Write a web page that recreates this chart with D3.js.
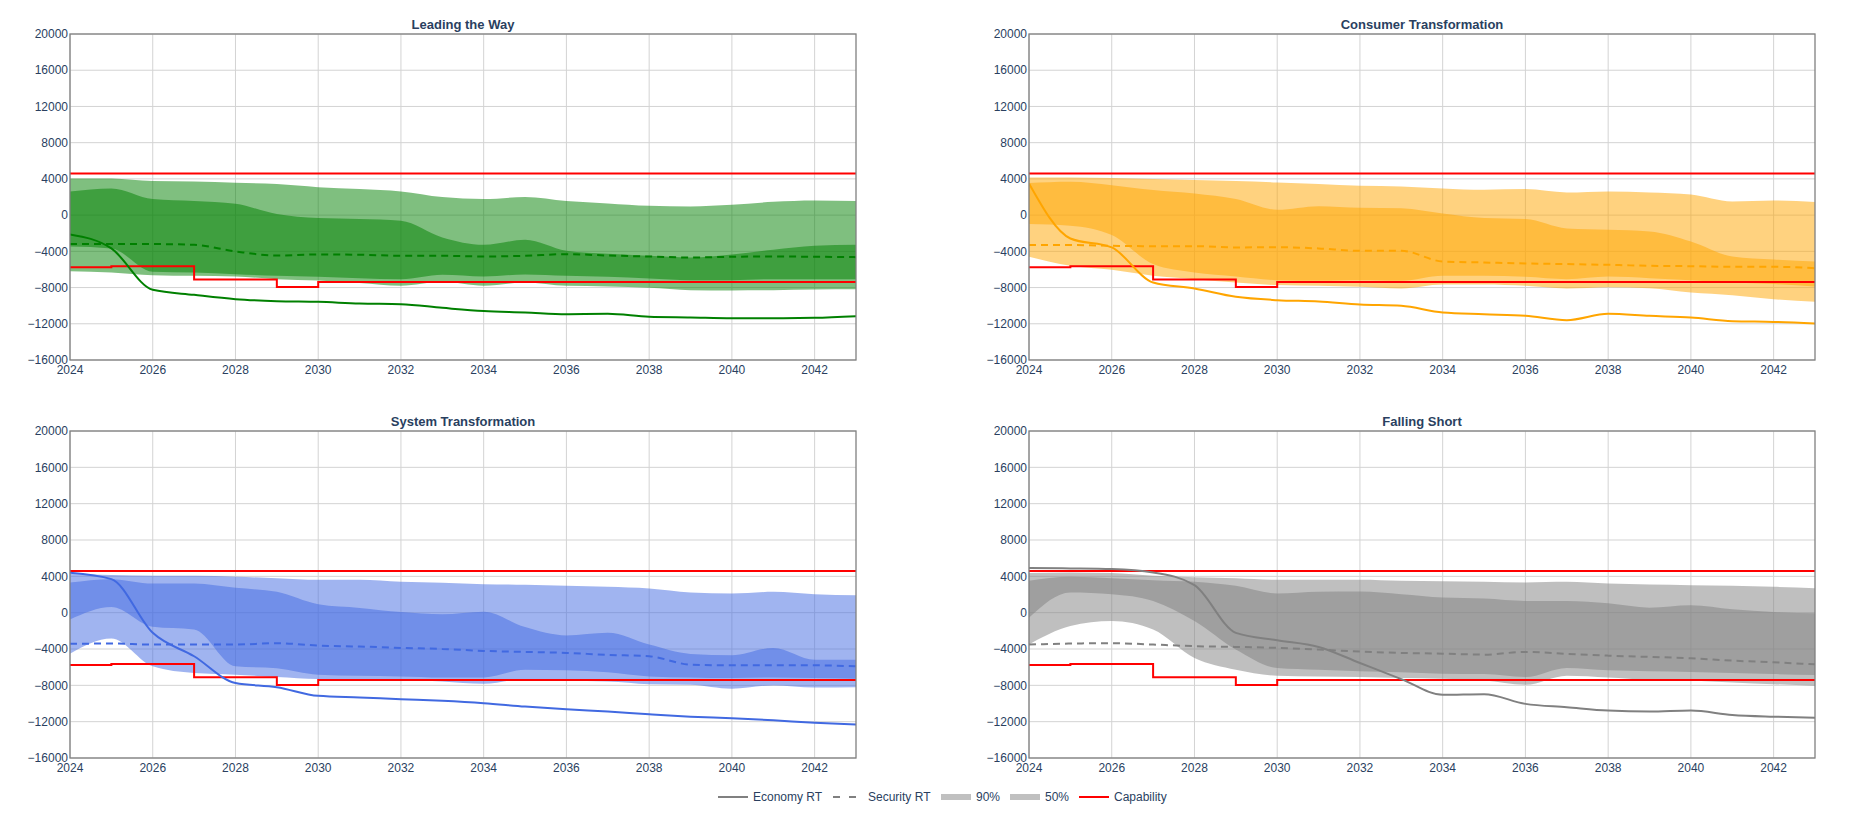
<!DOCTYPE html>
<html><head><meta charset="utf-8">
<script src="https://cdn.jsdelivr.net/npm/d3@7"></script>
<style>
html,body{margin:0;padding:0;background:#fff;}
svg{display:block;font-family:"Liberation Sans",Arial,sans-serif;}
</style></head>
<body>
<svg id="chart" width="1852" height="819"></svg>
<script>
const years = [2024,2025,2026,2027,2028,2029,2030,2031,2032,2033,2034,2035,2036,2037,2038,2039,2040,2041,2042,2043];
const yTicks = [-16000,-12000,-8000,-4000,0,4000,8000,12000,16000,20000];
const xTicks = [2024,2026,2028,2030,2032,2034,2036,2038,2040,2042];
const panelTitles = ["Leading the Way","Consumer Transformation","System Transformation","Falling Short"];
const panelColors = ["#008000","#FFA500","#4169E1","#808080"];
const legendLabels = ["Economy RT","Security RT","90%","50%","Capability"];

// Capability (same in all panels)
const capUpperYears = [2024,2043];
const capUpperValues = [4600,4600];
const capLowerYears = [2024,2025,2027,2029,2030,2043];
const capLowerValues = [-5750,-5650,-7100,-7950,-7400,-7400];

// Leading the Way
const ltwEconomy = [-2140,-3680,-8250,-8800,-9280,-9500,-9580,-9760,-9830,-10240,-10600,-10750,-10940,-10900,-11230,-11300,-11380,-11380,-11340,-11160];
const ltwSecurity = [-3200,-3200,-3200,-3280,-4010,-4460,-4350,-4380,-4490,-4490,-4570,-4490,-4310,-4460,-4570,-4680,-4600,-4570,-4600,-4640];
const ltw90Upper = [4050,4050,3760,3720,3570,3430,3090,2870,2620,1990,1770,1990,1550,1290,1030,960,1140,1470,1620,1550];
const ltw90Lower = [-6190,-6340,-6630,-6700,-6780,-7070,-7220,-7510,-7810,-7370,-7810,-7440,-7810,-7880,-8030,-8290,-8320,-8290,-8210,-8180];
const ltw50Upper = [2620,2950,1770,1550,1250,110,-330,-440,-630,-2470,-3280,-2730,-3940,-4270,-4490,-4680,-4350,-3830,-3390,-3280];
const ltw50Lower = [-3460,-3680,-6260,-6340,-6520,-6700,-6810,-6960,-7070,-6590,-6780,-6560,-6700,-6810,-7000,-7180,-7180,-7070,-7070,-7070];

// Consumer Transformation
const ctEconomy = [3500,-2580,-3570,-7440,-8100,-9020,-9390,-9540,-9870,-10020,-10750,-10940,-11120,-11600,-10900,-11120,-11310,-11710,-11790,-11970];
const ctSecurity = [-3310,-3310,-3390,-3430,-3430,-3570,-3540,-3680,-3940,-3940,-5120,-5230,-5340,-5410,-5490,-5600,-5640,-5710,-5710,-5860];
const ct90Upper = [4160,4160,4090,3980,3870,3760,3610,3430,3240,3170,2950,2800,2870,2500,2620,2500,2280,1510,1620,1440];
const ct90Lower = [-4600,-5600,-6040,-6700,-7070,-7440,-7730,-7810,-7920,-8100,-7660,-7660,-7810,-8100,-7960,-8070,-8540,-8840,-9280,-9580];
const ct50Upper = [3540,3680,3310,2760,2390,1770,590,990,810,770,180,-330,-440,-1470,-1620,-1800,-2910,-4570,-4900,-5120];
const ct50Lower = [-990,-1180,-2210,-5410,-6340,-6780,-7180,-7260,-7180,-7260,-6700,-6700,-6810,-7070,-6780,-6960,-7180,-7440,-7620,-7880];

// System Transformation
const stEconomy = [4390,3690,-2220,-4800,-7750,-8200,-9160,-9340,-9530,-9710,-9970,-10340,-10640,-10890,-11190,-11450,-11630,-11850,-12110,-12300];
const stSecurity = [-3430,-3400,-3510,-3510,-3510,-3360,-3620,-3730,-3880,-3990,-4210,-4320,-4430,-4650,-4800,-5720,-5800,-5800,-5800,-5910];
const st90Upper = [4250,4140,4060,4060,3950,3800,3620,3620,3400,3290,3140,3060,2950,2840,2660,2220,2100,2290,2030,1920];
const st90Lower = [-4510,-2840,-5910,-6650,-6830,-7090,-7310,-7310,-7390,-7570,-7830,-7310,-7500,-7570,-7870,-7940,-8380,-8010,-8230,-8200];
const st50Upper = [3320,3690,3210,3210,2730,2290,920,520,70,-180,110,-1590,-2510,-2220,-3510,-4540,-4690,-3880,-5170,-5170];
const st50Lower = [-740,630,-1550,-1850,-5910,-6130,-6830,-6940,-7020,-7130,-7130,-6280,-6350,-6570,-7020,-7130,-7200,-7130,-7200,-7270];

// Falling Short
const fsEconomy = [4910,4870,4800,4430,3030,-2220,-3030,-3770,-5540,-7310,-9050,-8980,-10040,-10410,-10780,-10890,-10780,-11260,-11450,-11560];
const fsSecurity = [-3510,-3400,-3360,-3510,-3690,-3770,-3880,-4060,-4280,-4430,-4510,-4620,-4320,-4540,-4730,-4870,-5020,-5280,-5470,-5690];
const fs90Upper = [4360,4430,4360,4060,3910,3800,3620,3620,3620,3510,3470,3400,3320,3400,3210,3100,3030,2950,2840,2700];
const fs90Lower = [-3500,-1480,-920,-1850,-4990,-6280,-6940,-7020,-7090,-7200,-7270,-7460,-7940,-6940,-7130,-7390,-7460,-7680,-7870,-8050];
const fs50Upper = [3510,3950,3800,3580,3400,2950,2100,2290,2330,2030,1660,1550,1290,1290,1030,550,810,370,70,-70];
const fs50Lower = [-550,2220,2030,1290,-920,-4060,-6090,-6280,-6460,-6570,-6720,-6760,-7090,-6090,-6350,-6460,-6540,-6650,-6760,-6870];

const panels = [
  {economy: ltwEconomy, security: ltwSecurity, u90: ltw90Upper, l90: ltw90Lower, u50: ltw50Upper, l50: ltw50Lower},
  {economy: ctEconomy, security: ctSecurity, u90: ct90Upper, l90: ct90Lower, u50: ct50Upper, l50: ct50Lower},
  {economy: stEconomy, security: stSecurity, u90: st90Upper, l90: st90Lower, u50: st50Upper, l50: st50Lower},
  {economy: fsEconomy, security: fsSecurity, u90: fs90Upper, l90: fs90Lower, u50: fs50Upper, l50: fs50Lower}
];

const layout = [
  {x0: 70, x1: 856, y0: 34, y1: 360},
  {x0: 1029, x1: 1815, y0: 34, y1: 360},
  {x0: 70, x1: 856, y0: 431, y1: 758},
  {x0: 1029, x1: 1815, y0: 431, y1: 758}
];

const svg = d3.select("#chart");
const textColor = "#2a3f5f";

panels.forEach((p, i) => {
  const L = layout[i];
  const color = panelColors[i];
  const x = d3.scaleLinear().domain([2024, 2043]).range([L.x0, L.x1]);
  const y = d3.scaleLinear().domain([-16000, 20000]).range([L.y1, L.y0]);
  const g = svg.append("g");

  const clipId = "clip" + i;
  g.append("clipPath").attr("id", clipId).append("rect")
    .attr("x", L.x0).attr("y", L.y0).attr("width", L.x1 - L.x0).attr("height", L.y1 - L.y0);

  // grid
  g.append("g").selectAll("line").data(yTicks).join("line")
    .attr("x1", L.x0).attr("x2", L.x1).attr("y1", d => y(d)).attr("y2", d => y(d))
    .attr("stroke", "#d3d3d3").attr("stroke-width", 1);
  g.append("g").selectAll("line").data(xTicks).join("line")
    .attr("y1", L.y0).attr("y2", L.y1).attr("x1", d => x(d)).attr("x2", d => x(d))
    .attr("stroke", "#d3d3d3").attr("stroke-width", 1);

  const plot = g.append("g").attr("clip-path", `url(#${clipId})`);
  const curve = d3.curveMonotoneX;

  const area90 = d3.area().x((d, j) => x(years[j])).y0((d, j) => y(p.l90[j])).y1(d => y(d)).curve(curve);
  const area50 = d3.area().x((d, j) => x(years[j])).y0((d, j) => y(p.l50[j])).y1(d => y(d)).curve(curve);
  plot.append("path").attr("d", area90(p.u90)).attr("fill", color).attr("fill-opacity", 0.5);
  plot.append("path").attr("d", area50(p.u50)).attr("fill", color).attr("fill-opacity", 0.5);

  const line = d3.line().x((d, j) => x(years[j])).y(d => y(d)).curve(curve);
  plot.append("path").attr("d", line(p.security)).attr("fill", "none")
    .attr("stroke", color).attr("stroke-width", 2).attr("stroke-dasharray", "7,5");

  const stepLine = d3.line().curve(d3.curveStepAfter);
  plot.append("path").attr("d", stepLine(capUpperYears.map((v, j) => [x(v), y(capUpperValues[j])])))
    .attr("fill", "none").attr("stroke", "#FF0000").attr("stroke-width", 2);
  plot.append("path").attr("d", stepLine(capLowerYears.map((v, j) => [x(v), y(capLowerValues[j])])))
    .attr("fill", "none").attr("stroke", "#FF0000").attr("stroke-width", 2);

  plot.append("path").attr("d", line(p.economy)).attr("fill", "none")
    .attr("stroke", color).attr("stroke-width", 2);

  // frame
  g.append("rect").attr("x", L.x0).attr("y", L.y0).attr("width", L.x1 - L.x0).attr("height", L.y1 - L.y0)
    .attr("fill", "none").attr("stroke", "#808080").attr("stroke-width", 1.3);

  // axes labels
  const fmt = d3.format("d");
  g.append("g").selectAll("text").data(yTicks).join("text")
    .attr("x", L.x0 - 2).attr("y", d => y(d)).attr("dy", "0.35em")
    .attr("text-anchor", "end").attr("font-size", 12).attr("fill", textColor)
    .text(d => (d < 0 ? "\u2212" : "") + fmt(Math.abs(d)));
  g.append("g").selectAll("text").data(xTicks).join("text")
    .attr("x", d => x(d)).attr("y", L.y1 + 14)
    .attr("text-anchor", "middle").attr("font-size", 12).attr("fill", textColor)
    .text(d => d);

  g.append("text").attr("x", (L.x0 + L.x1) / 2).attr("y", L.y0 - 5)
    .attr("text-anchor", "middle").attr("font-size", 13).attr("font-weight", "bold")
    .attr("fill", textColor).text(panelTitles[i]);
});

// legend
const legend = svg.append("g").attr("transform", "translate(0,797)");
const legendItems = [
  {x: 718, type: "line", color: "#808080"},
  {x: 833, type: "dash", color: "#808080"},
  {x: 941, type: "bar", color: "#c0c0c0"},
  {x: 1010, type: "bar", color: "#c0c0c0"},
  {x: 1079, type: "line", color: "#FF0000"}
];
legendItems.forEach((it, k) => {
  if (it.type === "bar") {
    legend.append("rect").attr("x", it.x).attr("y", -3).attr("width", 30).attr("height", 6).attr("fill", it.color);
  } else {
    legend.append("line").attr("x1", it.x).attr("x2", it.x + 30).attr("y1", 0).attr("y2", 0)
      .attr("stroke", it.color).attr("stroke-width", 2)
      .attr("stroke-dasharray", it.type === "dash" ? "7,9" : null);
  }
  legend.append("text").attr("x", it.x + 35).attr("y", 0).attr("dy", "0.35em")
    .attr("font-size", 12).attr("fill", textColor).text(legendLabels[k]);
});
</script>
</body></html>
